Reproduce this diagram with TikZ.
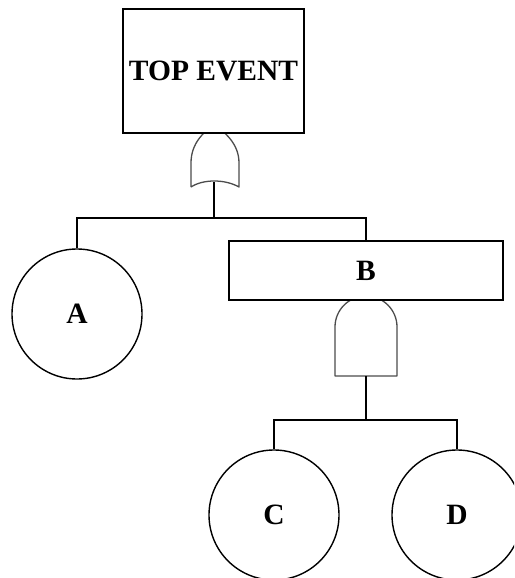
\documentclass[tikz,border=0pt]{standalone}
\usepackage{fontspec}
\setmainfont{Liberation Serif}
\begin{document}
\begin{tikzpicture}[x=1pt,y=-1pt,line width=1.4pt,
  eventbox/.style={draw,fill=white,rectangle,inner sep=0pt,font=\bfseries\fontsize{29.5}{30}\selectfont},
  basicev/.style={draw,fill=white,circle,inner sep=0pt,minimum size=130pt,font=\bfseries\fontsize{29.5}{30}\selectfont},
  gateline/.style={draw=black!70,line width=1.3pt,line join=round}]
\useasboundingbox (0,0) rectangle (514,578);
\clip (0,0) rectangle (514,578);
% gates (drawn first so the boxes cover their tops)
\draw[gateline] (191,187) -- (191,163) .. controls (191,143) and (204,132) .. (214,124)
  .. controls (224,132) and (239,143) .. (239,163) -- (239,187)
  .. controls (225,179) and (203,179) .. (191,187);
\draw[gateline] (335,376) -- (335,327) arc[start angle=180,end angle=0,radius=31pt] -- (397,376) -- cycle;
% events
\node[eventbox,minimum width=181pt,minimum height=124pt] (top) at (213.5,71) {TOP EVENT};
\node[eventbox,minimum width=274pt,minimum height=59pt] (B) at (366,270.5) {B};
\node[basicev] (A) at (77,314) {A};
\node[basicev] (C) at (274,515) {C};
\node[basicev] (D) at (457,515) {D};
% connectors
\coordinate (orout) at (214,182);
\coordinate (bus1) at (214,218);
\coordinate (andout) at (366,376);
\coordinate (bus2) at (366,420);
\draw (orout) -- (bus1);
\draw (A.north) |- (bus1) -| (B.north);
\draw (andout) -- (bus2);
\draw (C.north) |- (bus2) -| (D.north);
\end{tikzpicture}
\end{document}
